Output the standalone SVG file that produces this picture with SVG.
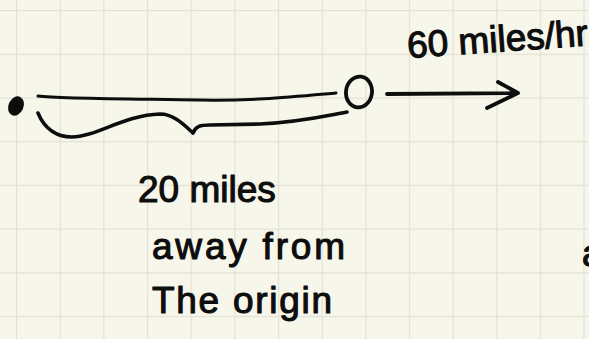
<svg xmlns="http://www.w3.org/2000/svg" width="589" height="339" viewBox="0 0 589 339">
  <defs>
    <pattern id="grid" x="16" y="10" width="43.65" height="43.7" patternUnits="userSpaceOnUse">
      <path d="M0,0 H43.65 M0,0 V43.7" fill="none" stroke="#E2E1D4" stroke-width="2.5"/>
    </pattern>
  </defs>
  <style>
    .ink { fill: none; stroke: #0d0d0d; stroke-linecap: round; stroke-linejoin: round; }
    .hand { font-family: "Liberation Sans", Arial, sans-serif; fill: #0d0d0d; stroke: #0d0d0d; stroke-width: 1.1px; stroke-linejoin: round; font-size: 37px; }
  </style>
  <rect width="589" height="339" fill="#F7F6EB"/>
  <rect width="589" height="339" fill="url(#grid)"/>

  <g id="origin">
    <ellipse cx="16" cy="106" rx="7.5" ry="10" transform="rotate(25 16 106)" fill="#0d0d0d"/>
  </g>

  <g id="car">
    <ellipse cx="359" cy="92" rx="13" ry="15.5" transform="rotate(8 359 92)" class="ink" stroke-width="3.8"/>
  </g>

  <g id="connectors">
    <path class="ink" stroke-width="3" d="M38,96 C60,99 150,99 200,100 S290,97 336,93"/>
    <path class="ink" stroke-width="3.6" d="M38,113 C45,130 58,137 72,137 C95,137 125,115 160,114 C175,114 187,128 193,133 C196,126 200,125 210,125 L260,124 C300,122 325,116 347,112"/>
    <path class="ink" stroke-width="3.8" d="M387,94 L518,93 M498,82 L518,93 L487,108"/>
  </g>

  <g id="labels">
    <text class="hand" x="408" y="58" font-size="36" transform="rotate(-4 408 58)">60 miles/hr</text>
    <text class="hand" x="138" y="202">20 miles</text>
    <text class="hand" x="152" y="259" textLength="193" lengthAdjust="spacing">away from</text>
    <text class="hand" x="152" y="313" textLength="180" lengthAdjust="spacing">The origin</text>
    <text class="hand" x="582" y="266">a</text>
  </g>
</svg>
